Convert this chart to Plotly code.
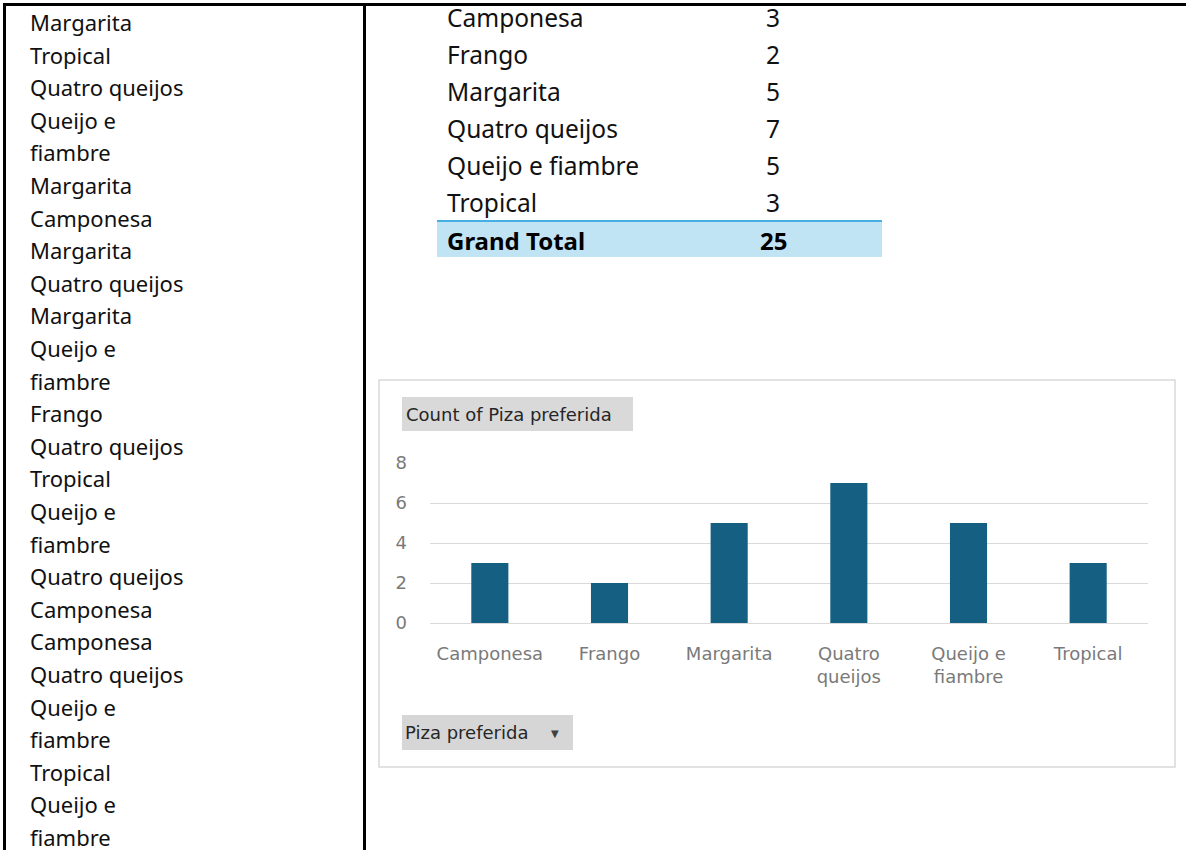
import plotly.graph_objects as go

W, H = 1186, 850

# ---- data ----
responses = [
    "Margarita", "Tropical", "Quatro queijos", "Queijo e fiambre", "Margarita",
    "Camponesa", "Margarita", "Quatro queijos", "Margarita", "Queijo e fiambre",
    "Frango", "Quatro queijos", "Tropical", "Queijo e fiambre", "Quatro queijos",
    "Camponesa", "Camponesa", "Quatro queijos", "Queijo e fiambre", "Tropical",
    "Queijo e fiambre",
]
categories = ["Camponesa", "Frango", "Margarita", "Quatro queijos", "Queijo e fiambre", "Tropical"]
counts = [3, 2, 5, 7, 5, 3]
axis_labels = ["Camponesa", "Frango", "Margarita", "Quatro<br>queijos", "Queijo e<br>fiambre", "Tropical"]
grand_total = 25
y_ticks = [0, 2, 4, 6, 8]


def px(x):
    return x / W


def py(y):
    return 1 - y / H


TEXT_FONT = "Noto Sans"
CHART_FONT = "DejaVu Sans"

fig = go.Figure()

fig.add_trace(go.Bar(
    x=axis_labels, y=counts,
    marker=dict(color="#156082", line=dict(width=0)),
    hoverinfo="skip",
))

shapes = []
annotations = []

# document table borders
shapes.append(dict(type="line", xref="paper", yref="paper",
                   x0=px(3), x1=px(W), y0=py(4.5), y1=py(4.5),
                   line=dict(color="black", width=3)))
shapes.append(dict(type="line", xref="paper", yref="paper",
                   x0=px(4.5), x1=px(4.5), y0=py(3), y1=py(H),
                   line=dict(color="black", width=3)))
shapes.append(dict(type="line", xref="paper", yref="paper",
                   x0=px(364.5), x1=px(364.5), y0=py(3), y1=py(H),
                   line=dict(color="black", width=3)))

# left column: raw responses (wrapped like the document column)
lines = []
for r in responses:
    if r == "Queijo e fiambre":
        lines += ["Queijo e", "fiambre"]
    else:
        lines.append(r)
for i, t in enumerate(lines):
    annotations.append(dict(text=t, xref="paper", yref="paper",
                            x=px(28), y=py(22 + 32.6 * i),
                            xanchor="left", yanchor="middle", showarrow=False,
                            font=dict(family=TEXT_FONT, size=22, color="#111111")))

# pivot table
shapes.append(dict(type="rect", xref="paper", yref="paper",
                   x0=px(437), x1=px(882), y0=py(221), y1=py(257),
                   fillcolor="#C1E4F5", line=dict(width=0), layer="below"))
shapes.append(dict(type="line", xref="paper", yref="paper",
                   x0=px(437), x1=px(882), y0=py(221), y1=py(221),
                   line=dict(color="#45B0E1", width=2)))
for i, (c, v) in enumerate(zip(categories, counts)):
    yy = py(18 + 36.8 * i)
    annotations.append(dict(text=c, xref="paper", yref="paper", x=px(445), y=yy,
                            xanchor="left", yanchor="middle", showarrow=False,
                            font=dict(family=TEXT_FONT, size=24.5, color="#111111")))
    annotations.append(dict(text=str(v), xref="paper", yref="paper", x=px(773), y=yy,
                            xanchor="center", yanchor="middle", showarrow=False,
                            font=dict(family=TEXT_FONT, size=24.5, color="#111111")))
annotations.append(dict(text="<b>Grand Total</b>", xref="paper", yref="paper", x=px(445), y=py(240),
                        xanchor="left", yanchor="middle", showarrow=False,
                        font=dict(family=TEXT_FONT, size=24, color="#000000")))
annotations.append(dict(text="<b>%d</b>" % grand_total, xref="paper", yref="paper", x=px(773), y=py(240),
                        xanchor="center", yanchor="middle", showarrow=False,
                        font=dict(family=TEXT_FONT, size=24, color="#000000")))

# chart frame
shapes.append(dict(type="rect", xref="paper", yref="paper",
                   x0=px(379), x1=px(1175), y0=py(380), y1=py(767),
                   fillcolor="rgba(0,0,0,0)", line=dict(color="#D9D9D9", width=1.5), layer="below"))

# field buttons
shapes.append(dict(type="rect", xref="paper", yref="paper",
                   x0=px(402), x1=px(633), y0=py(397), y1=py(431),
                   fillcolor="#D9D9D9", line=dict(width=0), layer="below"))
annotations.append(dict(text="Count of Piza preferida", xref="paper", yref="paper",
                        x=px(404), y=py(414), xanchor="left", yanchor="middle", showarrow=False,
                        font=dict(family=CHART_FONT, size=18, color="#262626")))
shapes.append(dict(type="rect", xref="paper", yref="paper",
                   x0=px(402), x1=px(573), y0=py(715), y1=py(750),
                   fillcolor="#D6D6D6", line=dict(width=0), layer="below"))
annotations.append(dict(text="Piza preferida", xref="paper", yref="paper",
                        x=px(403), y=py(732), xanchor="left", yanchor="middle", showarrow=False,
                        font=dict(family=CHART_FONT, size=18, color="#262626")))
annotations.append(dict(text="▼", xref="paper", yref="paper",
                        x=px(555), y=py(733), xanchor="center", yanchor="middle", showarrow=False,
                        font=dict(family="DejaVu Sans", size=10, color="#404040")))

fig.update_layout(
    width=W, height=H, autosize=False,
    margin=dict(l=0, r=0, t=0, b=0, pad=0, autoexpand=False),
    paper_bgcolor="white", plot_bgcolor="rgba(0,0,0,0)",
    showlegend=False,
    bargap=0.69,
    shapes=shapes,
    annotations=annotations,
    xaxis=dict(domain=[px(430), px(1148)], type="category", showgrid=False,
               showline=False, zeroline=False, ticks="", fixedrange=True, automargin=False,
               tickfont=dict(family=CHART_FONT, size=18, color="#7A7A7A"),
               ticklabelstandoff=18),
    yaxis=dict(domain=[py(623), py(463)], range=[0, 8], tickvals=y_ticks,
               showgrid=True, gridcolor="#D9D9D9", gridwidth=1,
               zeroline=True, zerolinecolor="#D9D9D9", zerolinewidth=1,
               showline=False, ticks="", fixedrange=True, automargin=False,
               tickfont=dict(family=CHART_FONT, size=18, color="#7A7A7A"),
               ticklabelstandoff=22),
)

fig.write_html("out.html", config={"displayModeBar": False})
